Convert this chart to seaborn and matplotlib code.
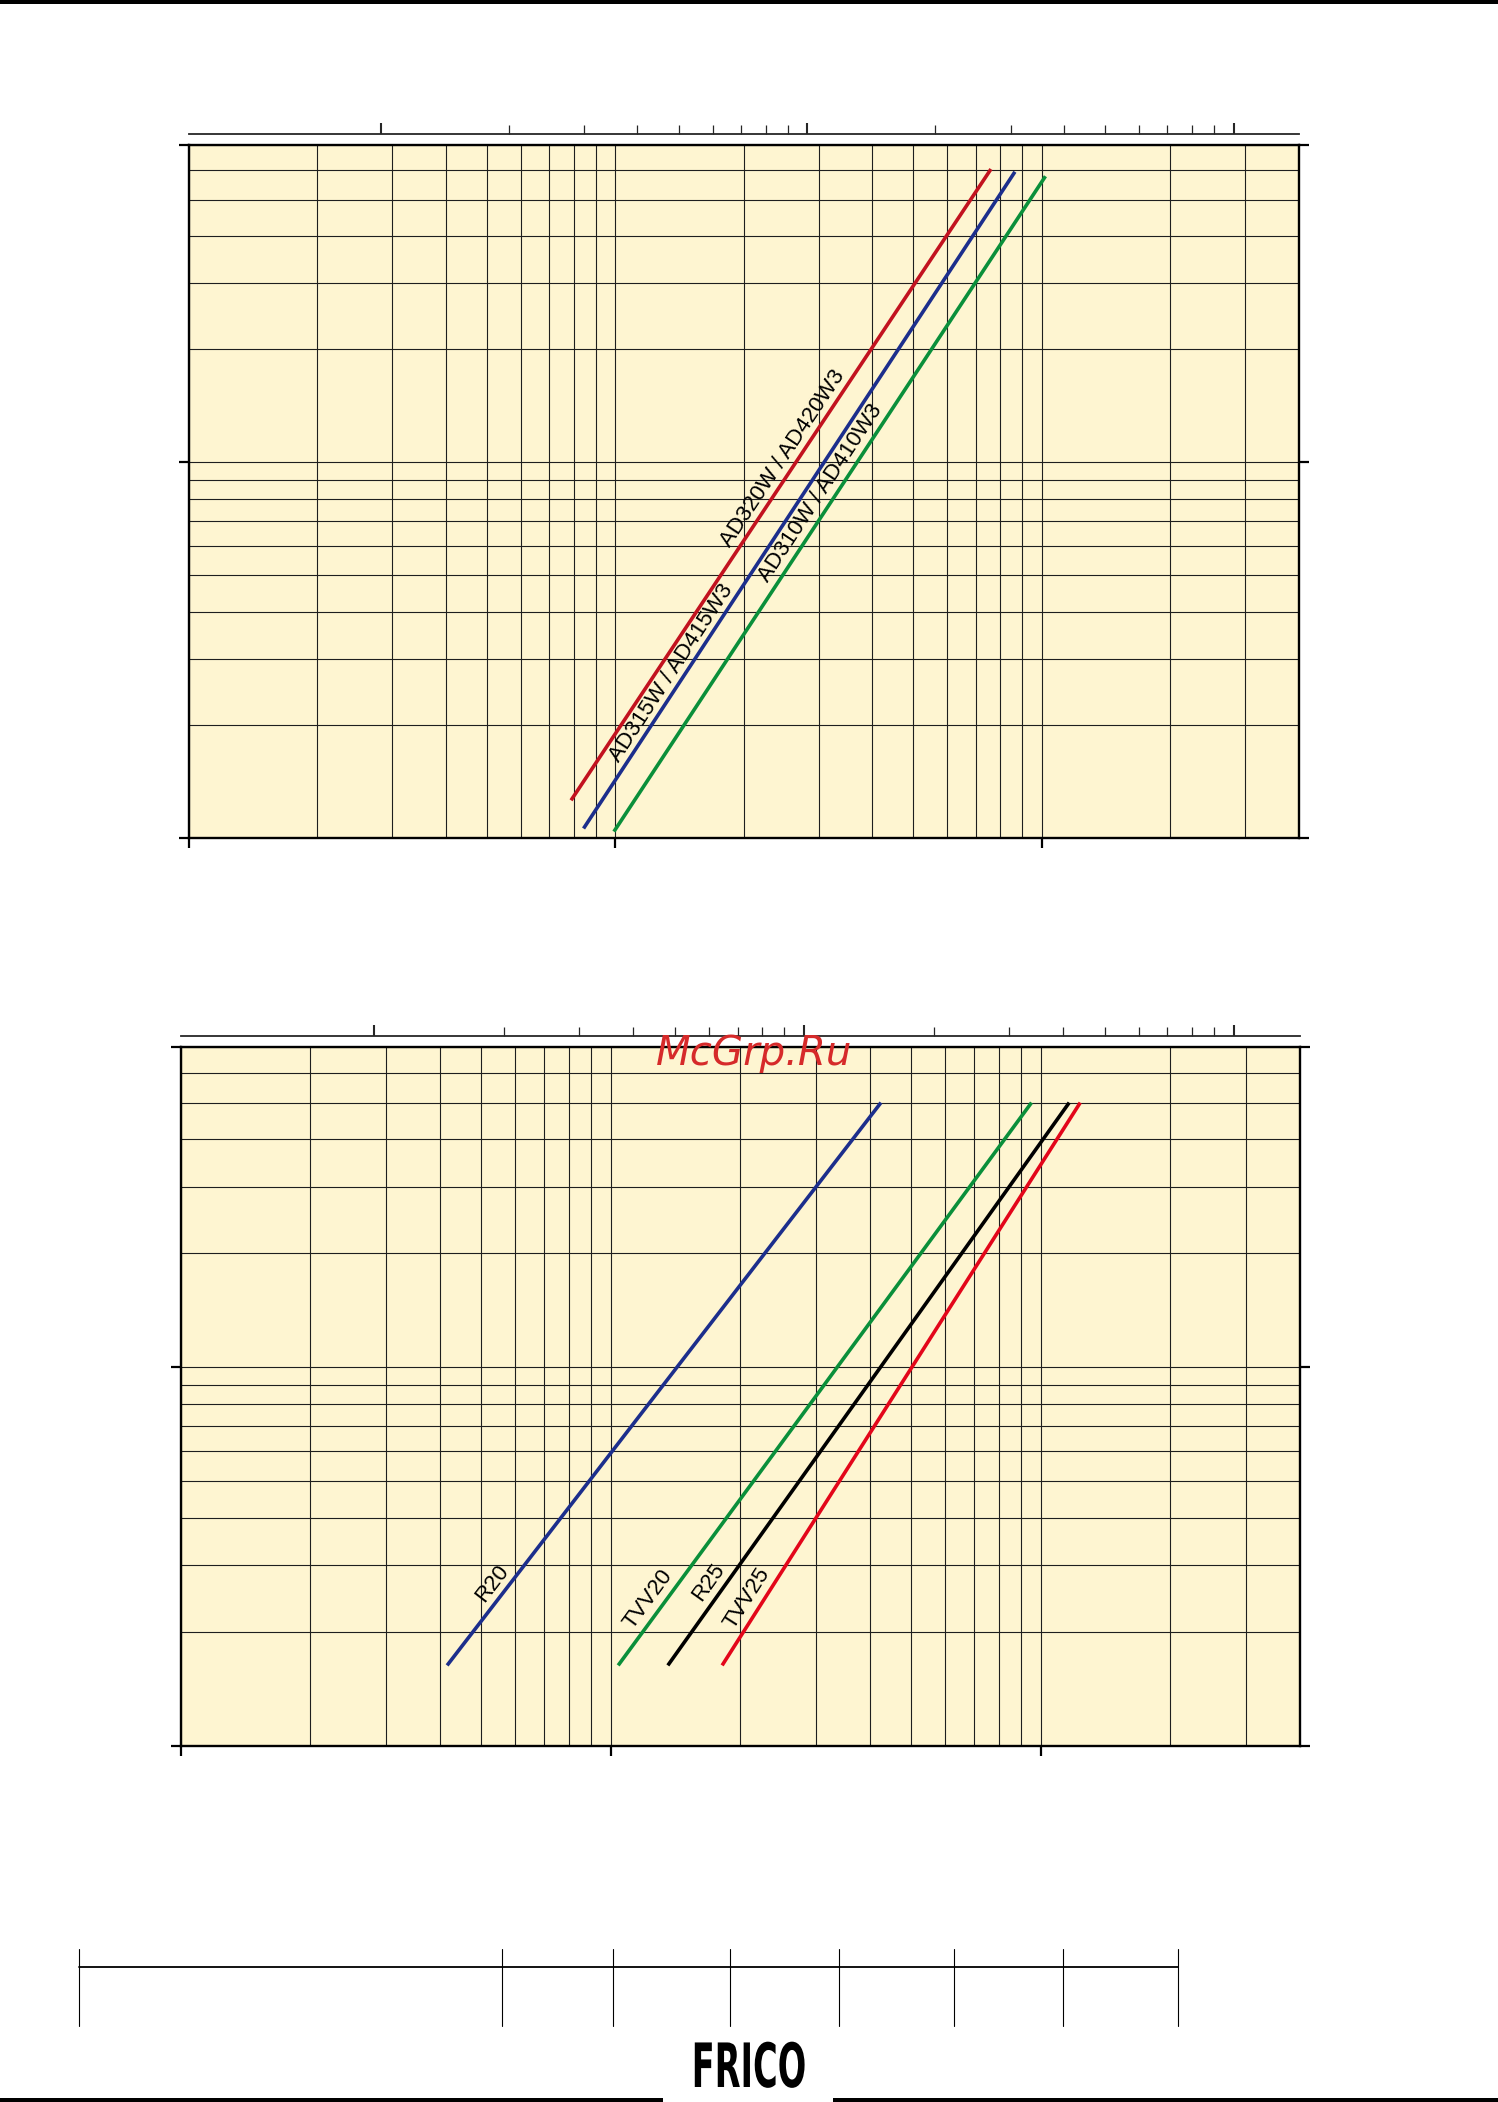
import numpy as np
import pandas as pd
import matplotlib
matplotlib.use("Agg")
import matplotlib.pyplot as plt
import matplotlib.patheffects as pe
import seaborn as sns
from matplotlib.lines import Line2D
from matplotlib.patches import Rectangle
from matplotlib.ticker import FixedLocator, NullFormatter
from matplotlib.transforms import Affine2D

# pressure drop diagrams, water flow (log) vs pressure drop (log)
ad_models = ["AD320W / AD420W3", "AD315W / AD415W3", "AD310W / AD410W3"]
ad_flow_start = [7.87, 8.42, 9.92]
ad_flow_end = [76.0, 86.5, 102.0]
ad_dp_start = [1.26, 1.06, 1.04]
ad_dp_end = [60.4, 59.4, 57.8]
ad_colors = ["#c2121f", "#1c2e8c", "#0a8f3a"]

valve_models = ["R20", "TVV20", "R25", "TVV25"]
valve_flow_start = [4.16, 10.4, 13.57, 18.15]
valve_flow_end = [42.5, 95.2, 116.5, 123.6]
valve_dp_start = [1.63, 1.63, 1.63, 1.63]
valve_dp_end = [50.0, 50.0, 50.0, 50.0]
valve_colors = ["#1c2e8c", "#0a8f3a", "#000000", "#e3061a"]

x_lim = (1, 400)
y_lim = (1, 70)
x_major = [1, 10, 100]
y_major = [1, 10, 70]
top_factor = 2.816  # secondary scale on top
top_major = [1, 10, 100]
top_minor = [2, 3, 4, 5, 6, 7, 8, 9, 20, 30, 40, 50, 60, 70, 80, 90]

sns.set_style("ticks")
plt.rcParams["font.family"] = ["Liberation Sans", "DejaVu Sans"]

W, H = 1498, 2102
fig = plt.figure(figsize=(W / 100, H / 100), dpi=100)
fig.patch.set_facecolor("white")


def make_df(models, x0, x1, y0, y1):
    rows = []
    for m, a, b, c, d in zip(models, x0, x1, y0, y1):
        rows.append((m, a, c))
        rows.append((m, b, d))
    return pd.DataFrame(rows, columns=["model", "flow", "dp"])


def setup_axes(rect):
    ax = fig.add_axes(rect)
    ax.set_facecolor("#fef5d1")
    ax.set_xscale("log")
    ax.set_yscale("log")
    ax.set_xlim(*x_lim)
    ax.set_ylim(*y_lim)
    ax.xaxis.set_major_locator(FixedLocator(x_major))
    ax.yaxis.set_major_locator(FixedLocator(y_major))
    ax.xaxis.set_major_formatter(NullFormatter())
    ax.xaxis.set_minor_formatter(NullFormatter())
    ax.yaxis.set_major_formatter(NullFormatter())
    ax.yaxis.set_minor_formatter(NullFormatter())
    ax.set_axisbelow(True)
    ax.grid(which="both", color="#1e1e1e", linewidth=0.8)
    ax.tick_params(which="major", direction="out", length=7.5, width=1.6,
                   left=True, right=True, bottom=True, top=False, color="black")
    ax.tick_params(which="minor", length=0)
    for s in ax.spines.values():
        s.set_visible(True)
        s.set_linewidth(1.7)
        s.set_color("black")

    sec = ax.secondary_xaxis(1.016, functions=(lambda x: x / top_factor,
                                               lambda x: x * top_factor))
    sec.xaxis.set_major_locator(FixedLocator(top_major))
    sec.xaxis.set_minor_locator(FixedLocator(top_minor))
    sec.xaxis.set_major_formatter(NullFormatter())
    sec.xaxis.set_minor_formatter(NullFormatter())
    sec.tick_params(which="major", direction="out", length=8, width=1.5)
    sec.tick_params(which="minor", direction="out", length=6.5, width=0.9)
    sec.spines["top"].set_linewidth(1.3)
    return ax


def draw_lines(ax, df, models, colors):
    sns.lineplot(data=df, x="flow", y="dp", hue="model", hue_order=models,
                 palette=dict(zip(models, colors)), estimator=None, sort=False,
                 legend=False, linewidth=2.6, solid_capstyle="butt", ax=ax)
    ax.set_xlabel("")
    ax.set_ylabel("")
    ax.set_xlim(*x_lim)
    ax.set_ylim(*y_lim)


def label_line(ax, text, x0, x1, y0, y1, frac, off):
    p0 = ax.transData.transform((x0, y0))
    p1 = ax.transData.transform((x1, y1))
    dx, dy = (p1 - p0) / np.hypot(*(p1 - p0))
    ang = np.degrees(np.arctan2(dy, dx))
    lx = 10 ** (np.log10(x0) + frac * (np.log10(x1) - np.log10(x0)))
    ly = 10 ** (np.log10(y0) + frac * (np.log10(y1) - np.log10(y0)))
    ax.annotate(text, (lx, ly), xytext=(-dy * off, dx * off),
                textcoords="offset pixels", rotation=ang, rotation_mode="anchor",
                ha="center", va="center", fontsize=16, color="black")


# top diagram
ax1 = setup_axes([189 / W, 1 - 838 / H, 1109.5 / W, 693 / H])
draw_lines(ax1, make_df(ad_models, ad_flow_start, ad_flow_end, ad_dp_start, ad_dp_end),
           ad_models, ad_colors)
for m, a, b, c, d, fr, off in zip(ad_models, ad_flow_start, ad_flow_end, ad_dp_start,
                                  ad_dp_end, [0.53, 0.227, 0.505], [13, 12, 13]):
    label_line(ax1, m, a, b, c, d, fr, off)

# bottom diagram
ax2 = setup_axes([181 / W, 1 - 1745.7 / H, 1118.5 / W, 698.4 / H])
draw_lines(ax2, make_df(valve_models, valve_flow_start, valve_flow_end,
                        valve_dp_start, valve_dp_end), valve_models, valve_colors)
for m, a, b, c, d, fr, off in zip(valve_models, valve_flow_start, valve_flow_end,
                                  valve_dp_start, valve_dp_end,
                                  [0.13, 0.101, 0.132, 0.104], [14.5, 15, 15, 15]):
    label_line(ax2, m, a, b, c, d, fr, off)

# watermark
fig.text(656 / W, 1 - 1065 / H, "McGrp.Ru", color="#d62a2a", fontsize=29,
         style="italic", family="DejaVu Sans", ha="left", va="baseline", zorder=10)

# page rules
fig.add_artist(Rectangle((0, 1 - 4 / H), 1, 4 / H, transform=fig.transFigure,
                         facecolor="black", edgecolor="none"))
fig.add_artist(Rectangle((0, 0), 663 / W, 4 / H, transform=fig.transFigure,
                         facecolor="black", edgecolor="none"))
fig.add_artist(Rectangle((833 / W, 0), 1 - 833 / W, 4 / H, transform=fig.transFigure,
                         facecolor="black", edgecolor="none"))

# empty table at the bottom
fig.add_artist(Line2D([79.3 / W, 1178 / W], [1 - 1966.7 / H] * 2,
                      transform=fig.transFigure, color="black", linewidth=1.3))
for xv in [79.3, 501.6, 613.4, 729.9, 838.8, 953.5, 1063.4, 1178]:
    fig.add_artist(Line2D([xv / W] * 2, [1 - 1949 / H, 1 - 2025.7 / H],
                          transform=fig.transFigure, color="black", linewidth=0.8))


class HSqueeze(pe.AbstractPathEffect):
    def __init__(self, factor, x0):
        super().__init__()
        self.factor = factor
        self.x0 = x0

    def draw_path(self, renderer, gc, tpath, affine, rgbFace=None):
        sq = Affine2D().translate(-self.x0, 0).scale(self.factor, 1).translate(self.x0, 0)
        renderer.draw_path(gc, tpath, affine + sq, rgbFace)


# logo
fig.text(0.5, 1 - 2087 / H, "FRICO", fontsize=44, fontweight="bold", family="DejaVu Sans",
         ha="center", va="baseline", color="black",
         path_effects=[HSqueeze(0.55, W / 2)])

fig.savefig("out.png", dpi=100, facecolor="white")
